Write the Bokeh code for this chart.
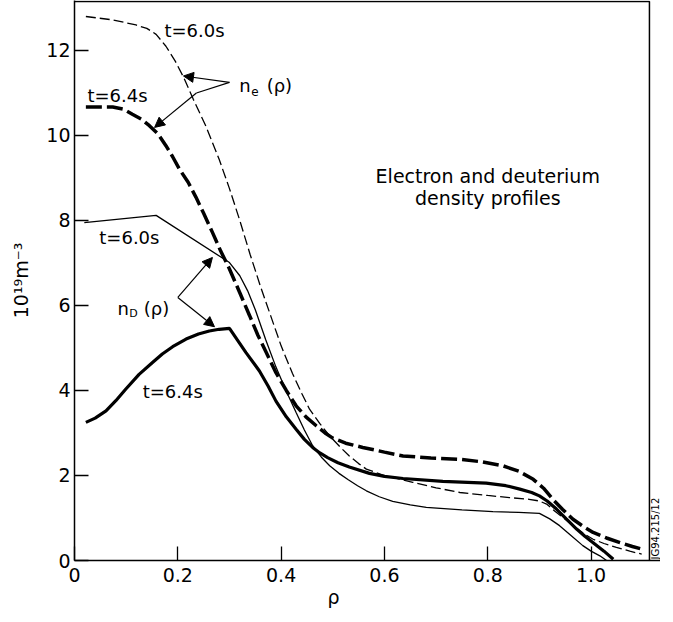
import math
from bokeh.plotting import figure
from bokeh.models import Arrow, NormalHead, FixedTicker, Title
from bokeh.core.properties import value
from bokeh.embed import file_html
from bokeh.resources import INLINE

# ---------------- data ----------------
x_ticks = [0, 0.2, 0.4, 0.6, 0.8, 1.0]
x_tick_labels = ["0", "0.2", "0.4", "0.6", "0.8", "1.0"]
y_ticks = [0, 2, 4, 6, 8, 10, 12]

# n_e, t=6.0s (thin dashed)
rho_ne60 = [0.022, 0.074, 0.119, 0.140, 0.158, 0.177, 0.195, 0.212, 0.230, 0.254,
            0.280, 0.300, 0.320, 0.340, 0.360, 0.380, 0.400, 0.422, 0.440, 0.455,
            0.475, 0.494, 0.515, 0.532, 0.550, 0.565, 0.600, 0.655, 0.700, 0.746,
            0.800, 0.842, 0.880, 0.900, 0.915, 0.930, 0.950, 0.965, 0.985, 1.004,
            1.025, 1.049, 1.075, 1.098]
ne60 = [12.80, 12.72, 12.60, 12.52, 12.38, 12.10, 11.75, 11.35, 10.85, 10.23,
        9.44, 8.75, 8.00, 7.20, 6.45, 5.75, 5.05, 4.40, 3.93, 3.56,
        3.22, 2.93, 2.66, 2.46, 2.28, 2.15, 2.00, 1.84, 1.71, 1.60,
        1.53, 1.48, 1.44, 1.40, 1.32, 1.16, 0.97, 0.82, 0.64, 0.50,
        0.40, 0.31, 0.22, 0.15]

# n_e, t=6.4s (thick dashed)
rho_ne64 = [0.022, 0.074, 0.095, 0.112, 0.130, 0.145, 0.162, 0.177, 0.190, 0.203,
            0.220, 0.235, 0.250, 0.267, 0.283, 0.300, 0.320, 0.339, 0.355, 0.371,
            0.390, 0.410, 0.429, 0.448, 0.468, 0.485, 0.500, 0.525, 0.558, 0.600,
            0.636, 0.690, 0.746, 0.790, 0.829, 0.860, 0.888, 0.908, 0.926, 0.945,
            0.965, 0.985, 1.004, 1.030, 1.056, 1.080, 1.098]
ne64 = [10.67, 10.67, 10.62, 10.50, 10.38, 10.23, 10.03, 9.76, 9.50, 9.21,
        8.90, 8.55, 8.17, 7.72, 7.28, 6.86, 6.30, 5.76, 5.30, 4.90,
        4.42, 4.00, 3.64, 3.38, 3.17, 3.00, 2.88, 2.76, 2.66, 2.55,
        2.46, 2.41, 2.38, 2.32, 2.23, 2.10, 1.91, 1.70, 1.44, 1.20,
        0.97, 0.80, 0.66, 0.53, 0.42, 0.33, 0.27]

# n_D, t=6.0s (thin solid)
rho_nd60 = [0.019, 0.158, 0.300, 0.320, 0.335, 0.350, 0.370, 0.390, 0.410, 0.429,
            0.445, 0.461, 0.478, 0.494, 0.512, 0.530, 0.548, 0.565, 0.590, 0.616,
            0.650, 0.681, 0.750, 0.810, 0.860, 0.900, 0.920, 0.939, 0.960, 0.984,
            1.000, 1.017, 1.030]
nd60 = [7.95, 8.12, 7.01, 6.70, 6.35, 5.90, 5.20, 4.55, 3.98, 3.48,
        3.07, 2.70, 2.43, 2.23, 2.05, 1.90, 1.76, 1.64, 1.50, 1.39,
        1.31, 1.25, 1.19, 1.15, 1.13, 1.11, 0.98, 0.82, 0.60, 0.35,
        0.22, 0.11, 0.00]

# n_D, t=6.4s (thick solid)
rho_nd64 = [0.022, 0.040, 0.061, 0.080, 0.099, 0.125, 0.151, 0.170, 0.190, 0.216,
            0.240, 0.261, 0.280, 0.300, 0.332, 0.358, 0.375, 0.390, 0.410, 0.429,
            0.445, 0.461, 0.475, 0.490, 0.510, 0.532, 0.571, 0.600, 0.636, 0.713,
            0.797, 0.835, 0.862, 0.885, 0.900, 0.915, 0.933, 0.952, 0.972, 0.988,
            1.004, 1.025, 1.043]
nd64 = [3.25, 3.35, 3.52, 3.76, 4.03, 4.38, 4.66, 4.86, 5.03, 5.21,
        5.33, 5.40, 5.44, 5.46, 4.89, 4.46, 4.10, 3.75, 3.38, 3.09,
        2.85, 2.66, 2.53, 2.42, 2.30, 2.20, 2.05, 1.98, 1.93, 1.86,
        1.82, 1.76, 1.68, 1.60, 1.52, 1.40, 1.21, 0.98, 0.74, 0.57,
        0.42, 0.22, 0.03]

# frame extent of the original diagram (data units)
X_EDGE = 1.113
Y_EDGE = 13.15

FONT = "DejaVu Sans"

p = figure(width=660, height=612, x_range=(0, 1.1344), y_range=(0, 13.176),
           output_backend="svg", toolbar_location=None,
           min_border_left=74, min_border_right=0, min_border_top=0,
           min_border_bottom=52, background_fill_color="white",
           border_fill_color="white")
p.grid.visible = False
p.outline_line_color = None

# axes
for ax in (p.xaxis[0], p.yaxis[0]):
    ax.axis_line_width = 1.5
    ax.axis_line_color = "black"
    ax.major_tick_in = 14
    ax.major_tick_out = 0
    ax.minor_tick_in = 0
    ax.minor_tick_out = 0
    ax.major_tick_line_width = 1.3
    ax.major_tick_line_color = "black"
    ax.major_label_text_font = FONT
    ax.major_label_text_font_size = "19px"
    ax.major_label_text_color = "black"
    ax.axis_label_text_font = FONT
    ax.axis_label_text_font_size = "19px"
    ax.axis_label_text_font_style = "normal"
    ax.axis_label_text_color = "black"

p.xaxis.ticker = FixedTicker(ticks=x_ticks)
p.xaxis.major_label_overrides = {t: l for t, l in zip(x_ticks, x_tick_labels)}
p.xaxis.major_label_standoff = 7
p.xaxis.fixed_location = None

p.yaxis.ticker = FixedTicker(ticks=y_ticks)
p.yaxis.major_label_standoff = 4
p.yaxis.axis_label = "10¹⁹m⁻³"
p.yaxis.axis_label_standoff = 11

# x-axis title (rho), placed under the 0.5 position like the original
p.add_layout(Title(text="ρ", align="left", offset=253, standoff=0,
                   text_font=FONT, text_font_size="19px", text_font_style="normal",
                   text_color="black", vertical_align="middle"), "below")

# frame (top and right edges of the original box)
p.line([0, X_EDGE, X_EDGE], [Y_EDGE, Y_EDGE, 0], line_color="black", line_width=1.5)

# curves
p.line(rho_ne60, ne60, line_color="black", line_width=1.3, line_dash="10 4")
p.line(rho_ne64, ne64, line_color="black", line_width=3.5, line_dash="16 5")
p.line(rho_nd60, nd60, line_color="black", line_width=1.3)
p.line(rho_nd64, nd64, line_color="black", line_width=3.2)

# text annotations
p.text(x=[0.174, 0.025, 0.048, 0.132], y=[12.46, 10.93, 7.59, 3.97],
       text=["t=6.0s", "t=6.4s", "t=6.0s", "t=6.4s"],
       text_font=value(FONT), text_font_size="18px", text_color="black",
       text_align="left", text_baseline="middle")

p.text(x=[0.80, 0.80], y=[9.05, 8.54],
       text=["Electron and deuterium", "density profiles"],
       text_font=value(FONT), text_font_size="19px", text_color="black",
       text_align="center", text_baseline="middle")

# n_e (rho) label
p.text(x=[0.319, 0.372], y=[11.18, 11.18], text=["n", "(ρ)"],
       text_font=value(FONT), text_font_size="18px", text_color="black",
       text_align="left", text_baseline="alphabetic")
p.text(x=[0.342], y=[11.04], text=["e"],
       text_font=value(FONT), text_font_size="12px", text_color="black",
       text_align="left", text_baseline="alphabetic")

# n_D (rho) label
p.text(x=[0.083, 0.134], y=[5.93, 5.93], text=["n", "(ρ)"],
       text_font=value(FONT), text_font_size="18px", text_color="black",
       text_align="left", text_baseline="alphabetic")
p.text(x=[0.106], y=[5.80], text=["D"],
       text_font=value(FONT), text_font_size="11px", text_color="black",
       text_align="left", text_baseline="alphabetic")

# figure id, bottom right, reading upwards
p.text(x=[1.1247], y=[0.75], text=["JG94.215/12"], angle=math.pi / 2,
       text_font=value(FONT), text_font_size="10px", text_color="black",
       text_align="center", text_baseline="middle")

# arrows
def head():
    return NormalHead(size=10, fill_color="black", line_color="black", line_width=1)

p.add_layout(Arrow(end=head(), x_start=0.300, y_start=11.25, x_end=0.211, y_end=11.40,
                   line_width=1.2, line_color="black"))
p.line([0.300, 0.236], [11.25, 11.00], line_color="black", line_width=1.2)
p.add_layout(Arrow(end=head(), x_start=0.236, y_start=11.00, x_end=0.155, y_end=10.19,
                   line_width=1.2, line_color="black"))
p.add_layout(Arrow(end=head(), x_start=0.200, y_start=6.19, x_end=0.267, y_end=7.13,
                   line_width=1.2, line_color="black"))
p.add_layout(Arrow(end=head(), x_start=0.200, y_start=6.19, x_end=0.271, y_end=5.50,
                   line_width=1.2, line_color="black"))

open("out.html", "w").write(file_html(p, INLINE))
